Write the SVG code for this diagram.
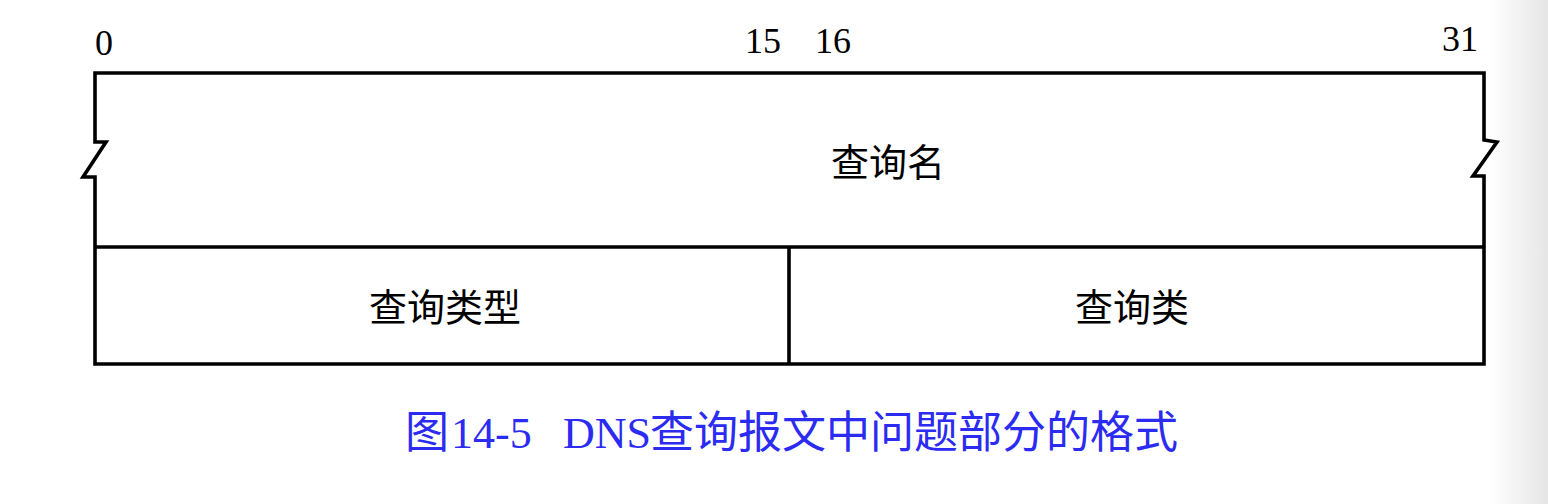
<svg xmlns="http://www.w3.org/2000/svg" width="1548" height="504" viewBox="0 0 1548 504">
<defs>
<linearGradient id="edge" x1="0" y1="0" x2="1" y2="0">
<stop offset="0" stop-color="#ffffff"/>
<stop offset="1" stop-color="#e6e6e6"/>
</linearGradient>
</defs>
<style>
.ln{fill:none;stroke:#000;stroke-width:3.6;stroke-linejoin:miter}
.num{font-family:"Liberation Serif","Times New Roman",serif;font-size:36px;fill:#000}
.lbl{font-family:"Noto Sans CJK SC","Noto Sans",sans-serif;font-size:38px;fill:#000;text-anchor:middle;dominant-baseline:central}
.cap{font-size:44px;fill:#2b2bf2}
.cj{font-family:"Noto Sans CJK SC","Noto Sans",sans-serif}
.sf{font-family:"Liberation Serif","Times New Roman",serif}
</style>
<rect width="1548" height="504" fill="#fff"/>
<rect x="1490" y="0" width="58" height="504" fill="url(#edge)"/>
<g id="bit-labels">
<text class="num" x="104" y="55" text-anchor="middle">0</text>
<text class="num" x="763" y="53" text-anchor="middle">15</text>
<text class="num" x="833" y="53" text-anchor="middle">16</text>
<text class="num" x="1460" y="51" text-anchor="middle">31</text>
</g>
<g id="connectors">
<path class="ln" d="M95,364 V177 H83 L106,142 H95 V73 H1484 V140 L1497,142 L1473,176 H1484 V364 Z"/>
<line class="ln" x1="95" y1="247" x2="1484" y2="247"/>
<line class="ln" x1="789" y1="247" x2="789" y2="364"/>
</g>
<g id="query-name"><text class="lbl" x="888" y="159">查询名</text></g>
<g id="query-type"><text class="lbl" x="445" y="304">查询类型</text></g>
<g id="query-class"><text class="lbl" x="1132" y="304">查询类</text></g>
<g id="caption">
<text class="cap" y="448"><tspan class="cj" x="405">图</tspan><tspan class="sf" x="451">14-5</tspan><tspan class="sf" x="563">DNS</tspan><tspan class="cj" x="650">查询报文中问题部分的格式</tspan></text>
</g>
</svg>
